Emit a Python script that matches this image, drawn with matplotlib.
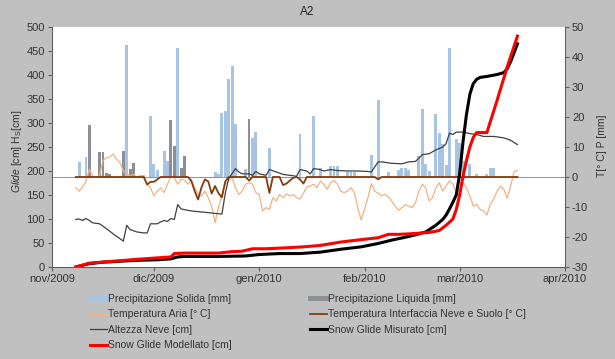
import pandas as pd
import matplotlib.pyplot as plt
from matplotlib.lines import Line2D

plt.rcParams['font.family'] = ['Liberation Sans', 'DejaVu Sans']
plt.rcParams['axes.unicode_minus'] = False
plt.rcParams['mathtext.fontset'] = 'custom'
plt.rcParams['mathtext.rm'] = 'Liberation Sans'
plt.rcParams['mathtext.it'] = 'Liberation Sans:italic'

# --- dati ---
mesi = ['nov/2009', 'dic/2009', 'gen/2010', 'feb/2010', 'mar/2010', 'apr/2010']
mesi_date = ['2009-11-01', '2009-12-01', '2010-01-01', '2010-02-01', '2010-03-01', '2010-04-01']

# precipitazione solida [mm]
neve_date = ['2009-11-09', '2009-11-11', '2009-11-23', '2009-11-28', '2009-11-30', '2009-12-01',
             '2009-12-02', '2009-12-04', '2009-12-05', '2009-12-08', '2009-12-19', '2009-12-20',
             '2009-12-21', '2009-12-22', '2009-12-23', '2009-12-24', '2009-12-25', '2009-12-28',
             '2009-12-30', '2009-12-31', '2010-01-04', '2010-01-13', '2010-01-17', '2010-01-19',
             '2010-01-22', '2010-01-23', '2010-01-24', '2010-01-27', '2010-01-28', '2010-01-29',
             '2010-02-03', '2010-02-05', '2010-02-08', '2010-02-11', '2010-02-12', '2010-02-13',
             '2010-02-14', '2010-02-17', '2010-02-18', '2010-02-19', '2010-02-20', '2010-02-22',
             '2010-02-23', '2010-02-24', '2010-02-25', '2010-02-26', '2010-02-28', '2010-03-01',
             '2010-03-02', '2010-03-04', '2010-03-06', '2010-03-09', '2010-03-10', '2010-03-11']
neve_mm = [5.0, 6.7, 44.0, 0.6, 20.3, 4.2,
           2.3, 8.7, 5.3, 43.0, 1.8, 1.1,
           21.4, 22.0, 32.6, 37.0, 17.8, 2.6,
           13.1, 15.1, 9.6, 14.4, 20.3, 3.1,
           3.7, 3.7, 3.7, 1.7, 1.7, 1.7,
           7.2, 25.6, 1.8, 2.5, 3.1, 3.1,
           2.5, 7.0, 22.8, 4.2, 2.0, 21.1,
           14.8, 10.9, 4.0, 42.9, 12.6, 11.4,
           5.3, 4.4, 0.9, 1.1, 3.1, 3.1]

# precipitazione liquida [mm]
pioggia_date = ['2009-11-12', '2009-11-15', '2009-11-16', '2009-11-17', '2009-11-18', '2009-11-22',
                '2009-11-24', '2009-11-25', '2009-12-06', '2009-12-07', '2009-12-09', '2009-12-10',
                '2009-12-29']
pioggia_mm = [17.5, 8.3, 8.4, 1.3, 0.9, 8.7,
              2.6, 4.6, 19.0, 10.3, 3.1, 7.0,
              19.4]

# temperatura aria [°C], giornaliera dal 2009-11-08
t_aria_inizio = '2009-11-08'
t_aria = [-3.6, -4.7, -3.3, -1.5, 2.6, 0.3, -0.2, 0.5, 5.5, 6.4,
          6.7, 7.6, 5.9, 4.8, 2.0, 0.9, 0.3, 0.9, -0.2, 0.5,
          0.3, -2.4, -3.6, -6.3, -4.7, -3.6, -5.2, -2.4, 0.3, -0.2,
          -2.4, -0.8, -1.0, -2.4, -0.8, -3.6, -5.8, -6.3, -4.7, -6.9,
          -9.7, -15.2, -10.2, -5.8, -2.4, -1.3, -0.2, -3.6, -5.8, -4.7,
          -2.4, -1.9, -2.4, -5.2, -5.8, -11.3, -10.2, -10.8, -6.9, -8.0,
          -5.8, -6.9, -5.6, -6.3, -5.8, -6.9, -7.4, -5.5, -3.3, -3.0,
          -2.4, -3.6, -1.3, -2.4, -4.1, -1.9, -1.1, -2.4, -4.7, -5.2,
          -4.7, -3.6, -5.2, -10.2, -14.3, -10.8, -6.9, -2.2, -4.7, -5.4,
          -6.3, -5.8, -6.6, -8.0, -9.7, -11.1, -10.2, -9.3, -9.7, -10.2,
          -8.5, -4.7, -2.4, -3.6, -8.0, -6.9, -3.6, -1.9, -4.7, -3.0,
          -1.3, -2.4, -5.2, -4.7, -1.9, -3.6, -6.3, -9.7, -9.1, -10.8,
          -11.3, -12.7, -9.1, -7.4, -4.7, -3.0, -4.1, -7.1, -3.0, 1.8,
          2.2]

# temperatura interfaccia neve-suolo [°C]
t_suolo_date = ['2009-11-08', '2009-11-28', '2009-11-29', '2009-11-30', '2009-12-01', '2009-12-02',
                '2009-12-03', '2009-12-11', '2009-12-12', '2009-12-13', '2009-12-14', '2009-12-15',
                '2009-12-16', '2009-12-17', '2009-12-18', '2009-12-19', '2009-12-20', '2009-12-21',
                '2009-12-22', '2009-12-23', '2009-12-28', '2009-12-29', '2009-12-30', '2010-01-03',
                '2010-01-04', '2010-01-05', '2010-01-07', '2010-01-08', '2010-01-09', '2010-01-10',
                '2010-01-11', '2010-01-12', '2010-01-13', '2010-01-14', '2010-01-15', '2010-02-04',
                '2010-02-05', '2010-02-06', '2010-03-18']
t_suolo = [0.0, 0.0, -2.5, -1.6, -1.6, -0.8,
           0.0, 0.0, -1.3, -4.7, -7.5, -3.5,
           -0.8, -1.5, -5.5, -3.0, -5.4, -6.8,
           -1.5, 0.0, 0.0, -1.2, 0.0, 0.0,
           -5.3, 0.0, 0.0, -2.7, -2.2, -1.2,
           -0.3, 0.0, -0.8, -2.2, 0.0, 0.0,
           -0.8, 0.0, 0.0]

# altezza neve [cm]
hs_date = ['2009-11-08', '2009-11-09', '2009-11-10', '2009-11-11', '2009-11-12', '2009-11-13',
           '2009-11-15', '2009-11-17', '2009-11-19', '2009-11-21', '2009-11-22', '2009-11-23',
           '2009-11-24', '2009-11-26', '2009-11-28', '2009-11-29', '2009-11-30', '2009-12-02',
           '2009-12-03', '2009-12-04', '2009-12-05', '2009-12-06', '2009-12-07', '2009-12-08',
           '2009-12-09', '2009-12-11', '2009-12-13', '2009-12-16', '2009-12-20', '2009-12-21',
           '2009-12-22', '2009-12-23', '2009-12-25', '2009-12-26', '2009-12-27', '2009-12-29',
           '2009-12-30', '2009-12-31', '2010-01-01', '2010-01-03', '2010-01-04', '2010-01-06',
           '2010-01-08', '2010-01-10', '2010-01-12', '2010-01-13', '2010-01-15', '2010-01-16',
           '2010-01-17', '2010-01-19', '2010-01-20', '2010-01-22', '2010-01-24', '2010-01-27',
           '2010-01-30', '2010-02-02', '2010-02-03', '2010-02-05', '2010-02-06', '2010-02-09',
           '2010-02-12', '2010-02-14', '2010-02-16', '2010-02-18', '2010-02-20', '2010-02-21',
           '2010-02-22', '2010-02-24', '2010-02-25', '2010-02-26', '2010-02-27', '2010-02-28',
           '2010-03-02', '2010-03-04', '2010-03-06', '2010-03-08', '2010-03-11', '2010-03-14',
           '2010-03-16', '2010-03-18']
hs_cm = [99, 100, 97, 101, 97, 92,
         90, 80, 69, 59, 54, 87,
         78, 73, 71, 71, 90, 90,
         94, 97, 95, 101, 99, 130,
         121, 118, 116, 114, 111, 110,
         153, 184, 205, 198, 194, 194,
         191, 199, 194, 191, 203, 198,
         193, 191, 189, 203, 200, 194,
         205, 203, 200, 203, 201, 200,
         200, 199, 198, 219, 219, 216,
         215, 219, 220, 234, 236, 240,
         244, 250, 257, 279, 276, 281,
         281, 278, 276, 272, 272, 269,
         264, 255]

# snow glide misurato [cm]
glide_mis_date = ['2009-11-08', '2009-11-12', '2009-11-16', '2009-11-21', '2009-11-26', '2009-12-02',
                  '2009-12-06', '2009-12-08', '2009-12-10', '2009-12-20', '2009-12-28', '2010-01-01',
                  '2010-01-07', '2010-01-13', '2010-01-19', '2010-01-25', '2010-01-31', '2010-02-05',
                  '2010-02-09', '2010-02-13', '2010-02-16', '2010-02-19', '2010-02-22', '2010-02-24',
                  '2010-02-25', '2010-02-26', '2010-02-27', '2010-02-28', '2010-03-01', '2010-03-02',
                  '2010-03-03', '2010-03-04', '2010-03-05', '2010-03-06', '2010-03-07', '2010-03-09',
                  '2010-03-12', '2010-03-14', '2010-03-15', '2010-03-16', '2010-03-17', '2010-03-18']
glide_mis = [0, 7, 10, 12, 14, 15,
             17, 21, 22, 22, 23, 26,
             28, 28, 31, 37, 42, 49,
             56, 62, 67, 73, 87, 99,
             108, 121, 135, 150, 195, 262,
             318, 360, 382, 391, 395, 397,
             401, 405, 413, 428, 446, 465]

# snow glide modellato [cm]
glide_mod_date = ['2009-11-08', '2009-11-12', '2009-11-19', '2009-11-26', '2009-12-02', '2009-12-06',
                  '2009-12-07', '2009-12-10', '2009-12-20', '2009-12-24', '2009-12-27', '2009-12-30',
                  '2010-01-03', '2010-01-09', '2010-01-14', '2010-01-19', '2010-01-25', '2010-01-31',
                  '2010-02-05', '2010-02-08', '2010-02-11', '2010-02-14', '2010-02-18', '2010-02-20',
                  '2010-02-23', '2010-02-25', '2010-02-27', '2010-02-28', '2010-03-01', '2010-03-02',
                  '2010-03-03', '2010-03-04', '2010-03-05', '2010-03-06', '2010-03-09', '2010-03-12',
                  '2010-03-15', '2010-03-18']
glide_mod = [0, 8, 12, 16, 19, 21,
             28, 29, 29, 32, 33, 38,
             38, 40, 42, 45, 52, 57,
             61, 68, 68, 69, 71, 72,
             76, 87, 100, 120, 150, 190,
             222, 250, 270, 280, 280, 347,
             417, 481]

# --- figura ---
grigio = '#606060'
testo = '#333333'
fig = plt.figure(figsize=(6.15, 3.59), dpi=100, facecolor='#c0c0c0')
ax = fig.add_axes([52 / 615, 92 / 359, 513 / 615, 240 / 359])
ax2 = ax.twinx()
ax.set_zorder(ax2.get_zorder() + 1)
ax.patch.set_visible(False)
ax2.patch.set_visible(True)
ax2.patch.set_facecolor('white')

# asse destro: precipitazioni e temperature
ax2.bar(pd.to_datetime(neve_date), neve_mm, width=0.85, color='#a6c4e4', zorder=2)
ax2.bar(pd.to_datetime(pioggia_date), pioggia_mm, width=0.85, color='#8c9096', zorder=2)
ax2.axhline(0, color='#808080', lw=0.6, zorder=3)
giorni = pd.date_range(t_aria_inizio, periods=len(t_aria))
ax2.plot(giorni, t_aria, color='#f4b183', lw=0.9, zorder=4)
ax2.plot(pd.to_datetime(t_suolo_date), t_suolo, color='#843c0c', lw=1.3, zorder=5)

# asse sinistro: neve e glide
ax.plot(pd.to_datetime(hs_date), hs_cm, color='#404040', lw=0.9)
ax.plot(pd.to_datetime(glide_mis_date), glide_mis, color='black', lw=2.2)
ax.plot(pd.to_datetime(glide_mod_date), glide_mod, color='#ff0000', lw=2.2)

ax.set_xlim(pd.Timestamp('2009-11-01'), pd.Timestamp('2010-04-01'))
ax.set_ylim(0, 500)
ax.set_yticks(range(0, 501, 50))
ax2.set_ylim(-30, 50)
ax2.set_yticks(range(-30, 51, 10))
ax.set_xticks(pd.to_datetime(mesi_date))
ax.set_xticklabels(mesi)

for a in (ax, ax2):
    a.spines['top'].set_visible(False)
    for s in a.spines.values():
        s.set_color(grigio)
        s.set_linewidth(0.8)
    a.tick_params(direction='out', length=3, width=0.8, color=grigio,
                  labelsize=8, labelcolor=testo, pad=2)
ax.spines['right'].set_visible(False)
ax2.spines['left'].set_visible(False)
ax2.spines['bottom'].set_visible(False)

fig.text(0.5, 1 - 12 / 359, 'A2', ha='center', va='center', fontsize=8.5, color='#222222')
fig.text(17 / 615, 1 - 151 / 359, r'$\mathit{Glide}$ [cm] H$_\mathrm{S}$[cm]',
         rotation=90, ha='center', va='center', fontsize=7.5, color=testo)
fig.text(602 / 615, 1 - 146 / 359, 'T[° C] P [mm]',
         rotation=90, ha='center', va='center', fontsize=7.5, color=testo)

# legenda su due colonne
col1 = [Line2D([], [], color='#a6c4e4', lw=3.5),
        Line2D([], [], color='#f4b183', lw=0.9),
        Line2D([], [], color='#404040', lw=0.9),
        Line2D([], [], color='#ff0000', lw=2.2)]
lab1 = ['Precipitazione Solida [mm]', 'Temperatura Aria [° C]',
        'Altezza Neve [cm]', 'Snow Glide Modellato [cm]']
col2 = [Line2D([], [], color='#8c9096', lw=3.5),
        Line2D([], [], color='#843c0c', lw=1.3),
        Line2D([], [], color='black', lw=2.2)]
lab2 = ['Precipitazione Liquida [mm]', 'Temperatura Interfaccia Neve e Suolo [° C]',
        'Snow Glide Misurato [cm]']
stile = dict(loc='upper left', frameon=False, fontsize=7.5, handlelength=1.63,
             handletextpad=0.1, labelspacing=0.52, borderpad=0, borderaxespad=0,
             labelcolor=testo)
fig.legend(col1, lab1, bbox_to_anchor=(90 / 615, 1 - 294 / 359), **stile)
fig.legend(col2, lab2, bbox_to_anchor=(310 / 615, 1 - 294 / 359), **stile)

fig.savefig('out.png', dpi=100, facecolor=fig.get_facecolor())
